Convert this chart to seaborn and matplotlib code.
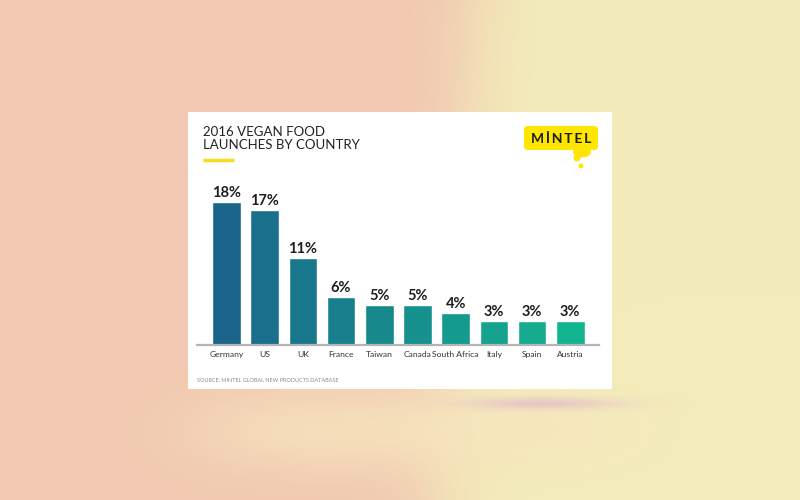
import numpy as np
import pandas as pd
import matplotlib.pyplot as plt
import seaborn as sns
from matplotlib.patches import Rectangle, FancyBboxPatch, Circle, Ellipse

# data
countries = ['Germany', 'US', 'UK', 'France', 'Taiwan', 'Canada',
             'South Africa', 'Italy', 'Spain', 'Austria']
share = [18, 17, 11, 6, 5, 5, 4, 3, 3, 3]
value_labels = [f'{v}%' for v in share]

df = pd.DataFrame({'country': countries, 'share': share})
colors = sns.blend_palette(['#1a668b', '#13b490'], n_colors=len(countries))

sns.set_theme(style='white')
plt.rcParams['font.family'] = ['Lato', 'DejaVu Sans']

fig = plt.figure(figsize=(8, 5), dpi=100)

# background photo-ish gradient, drawn in pixel space
bg = fig.add_axes([0, 0, 1, 1])
bg.set_xlim(0, 800)
bg.set_ylim(500, 0)
bg.axis('off')
yy, xx = np.mgrid[0:500, 0:800]
edge = 475 - 0.08 * yy
t = 1 / (1 + np.exp(-(xx - edge) / 22))
peach = np.array([241, 200, 177]) / 255
yellow = np.array([243, 236, 186]) / 255
img = peach * (1 - t[..., None]) + yellow * t[..., None]
# soft pale reflection under the card
glow = np.exp(-(((xx - 420) / 230) ** 4) - (((yy - 430) / 45) ** 2))
cream = np.array([247, 230, 190]) / 255
img = img * (1 - 0.75 * glow[..., None]) + cream * 0.75 * glow[..., None]
streak = np.exp(-(((xx - 540) / 75) ** 2) - (((yy - 403) / 6) ** 2))
pink = np.array([225, 185, 200]) / 255
img = img * (1 - 0.7 * streak[..., None]) + pink * 0.7 * streak[..., None]
bg.imshow(img, extent=(0, 800, 500, 0), aspect='auto', zorder=0)

# white card
bg.add_patch(Rectangle((188, 112), 424, 277, facecolor='white', edgecolor='none', zorder=1))

# title + underline
bg.text(203, 126, '2016 VEGAN FOOD\nLAUNCHES BY COUNTRY', fontsize=9.5, color='#222222',
        ha='left', va='top', linespacing=1.1, zorder=2)
bg.plot([203, 234], [160, 160], color='#f5dc1e', lw=2.5, solid_capstyle='butt', zorder=2)

# Mintel logo
bg.add_patch(FancyBboxPatch((524, 126), 74, 24, boxstyle='round,pad=0,rounding_size=4',
                            facecolor='#ffe600', edgecolor='none', zorder=2))
bg.add_patch(Ellipse((582, 152), 18, 11, facecolor='#ffe600', edgecolor='none', zorder=2))
bg.add_patch(Circle((577, 158), 3.5, facecolor='#ffe600', edgecolor='none', zorder=2))
bg.add_patch(Circle((581, 166), 2.5, facecolor='#ffe600', edgecolor='none', zorder=2))
bg.text(561, 139, 'M\u2009İ\u2009N\u2009T\u2009E\u2009L', fontsize=10, fontweight='bold',
        color='#1c1c1c', ha='center', va='center', zorder=3)

# source note
bg.text(197, 380, 'SOURCE: MINTEL GLOBAL NEW PRODUCTS DATABASE', fontsize=4.0,
        color='#8a8a8a', ha='left', va='center', zorder=2)

# bar chart
ax = fig.add_axes([197 / 800, 155 / 500, 402 / 800, 158.4 / 500])
ax.patch.set_alpha(0)
sns.barplot(data=df, x='country', y='share', hue='country', palette=colors,
            width=0.75, saturation=1, legend=False, ax=ax)
ax.set_ylim(0, 20)
ax.set_xlim(-0.772, 9.751)
ax.set_xlabel('')
ax.set_ylabel('')
ax.set_yticks([])
for side in ['left', 'right', 'top']:
    ax.spines[side].set_visible(False)
ax.spines['bottom'].set_color('#b5b5b5')
ax.spines['bottom'].set_linewidth(1.6)
ax.tick_params(axis='x', length=0, pad=4, labelsize=6.1, labelcolor='#333333')

for cont, lab in zip(ax.containers, value_labels):
    ax.bar_label(cont, labels=[lab], padding=1.5, fontsize=10.5, fontweight='bold', color='#1e1e1e')

fig.savefig('out.png', dpi=100)
